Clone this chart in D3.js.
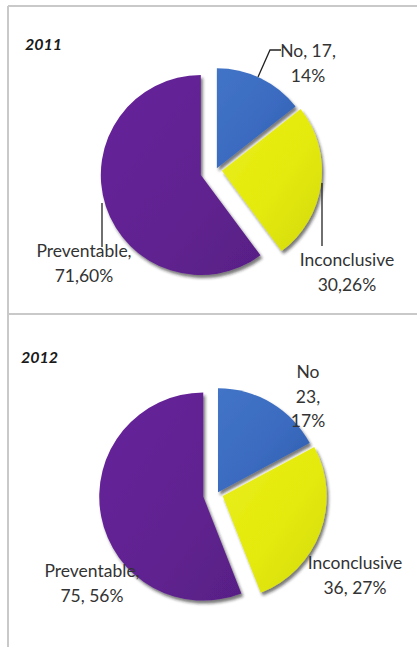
<!DOCTYPE html>
<html>
<head>
<meta charset="utf-8">
<script src="https://cdn.jsdelivr.net/npm/d3@7"></script>
<style>
  html, body { margin: 0; padding: 0; background: #ffffff; }
  svg { display: block; }
</style>
</head>
<body>
<svg id="chart" width="417" height="647"></svg>
<script>
// Case review outcomes per year
const years = ["2011", "2012"];
const categories = ["No", "Inconclusive", "Preventable"];
const counts2011 = [17, 30, 71];
const counts2012 = [23, 36, 75];
const percent2011 = [14, 26, 60];
const percent2012 = [17, 27, 56];

// Label text per panel (the two years use different wording)
const labelLines2011 = [
  (c, n, p) => [`${c}, ${n},`, `${p}%`],
  (c, n, p) => [c, `${n},${p}%`],
  (c, n, p) => [`${c},`, `${n},${p}%`]
];
const labelLines2012 = [
  (c, n, p) => [c, `${n},`, `${p}%`],
  (c, n, p) => [c, `${n}, ${p}%`],
  (c, n, p) => [`${c},`, `${n}, ${p}%`]
];

const panels = [
  {
    year: years[0], counts: counts2011, pct: percent2011, lines: labelLines2011,
    titleX: 25, titleY: 50,
    cx: 216, cy: 170, r: 100, explode: [2, 6, 16],
    labels: [[308, 57], [347, 266], [84, 257]],
    leaders: [
      [[258, 77], [270, 50], [281, 50]],
      [[322, 183], [322, 246]],
      [[102, 203], [102, 247]]
    ]
  },
  {
    year: years[1], counts: counts2012, pct: percent2012, lines: labelLines2012,
    titleX: 21, titleY: 363,
    cx: 217, cy: 494, r: 104, explode: [2, 6, 14],
    labels: [[308, 378], [355, 569], [92, 577]],
    leaders: []
  }
];

const colors = d3.scaleOrdinal()
  .domain(categories)
  .range(["#3a6bc0", "#e4ea0a", "#612291"]);
const lightColors = d3.scaleOrdinal()
  .domain(categories)
  .range(["#4274c6", "#e9ee1c", "#66259a"]);
const darkColors = d3.scaleOrdinal()
  .domain(categories)
  .range(["#2f5ba9", "#d3d908", "#581f86"]);

const svg = d3.select("#chart");
const defs = svg.append("defs");

categories.forEach((c, i) => {
  const g = defs.append("linearGradient")
    .attr("id", "grad" + i)
    .attr("x1", "0%").attr("y1", "0%")
    .attr("x2", "100%").attr("y2", "100%");
  g.append("stop").attr("offset", "0%").attr("stop-color", lightColors(c));
  g.append("stop").attr("offset", "55%").attr("stop-color", colors(c));
  g.append("stop").attr("offset", "100%").attr("stop-color", darkColors(c));
});

// Soft bevel shadow under each slice
const f = defs.append("filter").attr("id", "bevel")
  .attr("x", "-20%").attr("y", "-20%").attr("width", "140%").attr("height", "140%");
f.append("feDropShadow")
  .attr("dx", 2).attr("dy", 3).attr("stdDeviation", 1.5)
  .attr("flood-color", "#1a1a1a").attr("flood-opacity", 0.6);

// Panel frame lines
const frame = svg.append("g")
  .attr("stroke", "#c9c9c9").attr("stroke-width", 2).attr("fill", "none");
frame.append("line").attr("x1", 8).attr("y1", 6).attr("x2", 417).attr("y2", 6);
frame.append("line").attr("x1", 8).attr("y1", 6).attr("x2", 8).attr("y2", 647);
frame.append("line").attr("x1", 8).attr("y1", 314).attr("x2", 417).attr("y2", 314);

const pie = d3.pie().sort(null).startAngle(0).endAngle(2 * Math.PI).value(d => d.n);

panels.forEach(panel => {
  const data = categories.map((c, i) => ({ c, i, n: panel.counts[i], p: panel.pct[i] }));
  const arcs = pie(data);
  const arc = d3.arc().innerRadius(0).outerRadius(panel.r);

  const g = svg.append("g");

  g.append("text")
    .attr("x", panel.titleX).attr("y", panel.titleY)
    .attr("font-family", "Lato, 'Open Sans', sans-serif")
    .attr("font-weight", "bold").attr("font-style", "italic")
    .attr("font-size", 16).attr("fill", "#1a1a1a")
    .text(panel.year);

  g.selectAll("path.slice")
    .data(arcs)
    .join("path")
    .attr("class", "slice")
    .attr("transform", d => {
      const mid = (d.startAngle + d.endAngle) / 2;
      const e = panel.explode[d.data.i];
      return `translate(${panel.cx + e * Math.sin(mid)},${panel.cy - e * Math.cos(mid)})`;
    })
    .attr("d", arc)
    .attr("fill", d => `url(#grad${d.data.i})`)
    .attr("filter", "url(#bevel)");

  g.selectAll("polyline.leader")
    .data(panel.leaders)
    .join("polyline")
    .attr("class", "leader")
    .attr("points", d => d.map(p => p.join(",")).join(" "))
    .attr("fill", "none").attr("stroke", "#222").attr("stroke-width", 1.3);

  arcs.forEach(d => {
    const [lx, ly] = panel.labels[d.data.i];
    const lines = panel.lines[d.data.i](d.data.c, d.data.n, d.data.p);
    const t = g.append("text")
      .attr("x", lx).attr("y", ly)
      .attr("text-anchor", "middle")
      .attr("font-family", "Lato, 'Open Sans', sans-serif")
      .attr("font-size", 17.5).attr("fill", "#333333");
    lines.forEach((line, k) => {
      t.append("tspan").attr("x", lx).attr("y", ly + k * 24.5).text(line);
    });
  });
});
</script>
</body>
</html>
